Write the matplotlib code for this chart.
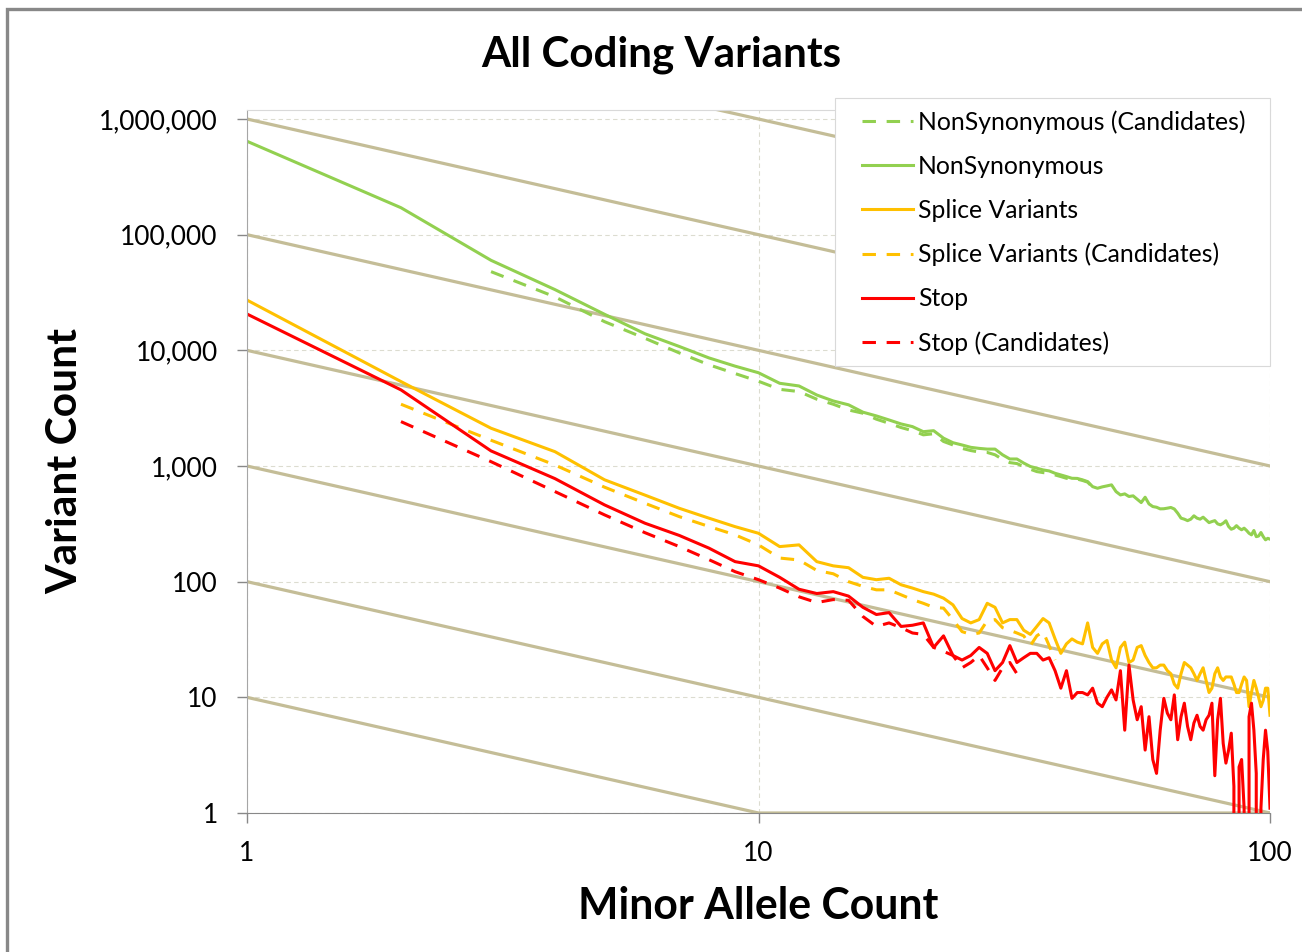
import numpy as np
import matplotlib
matplotlib.use('Agg')
import matplotlib.pyplot as plt
from matplotlib.patches import Rectangle

plt.rcParams['font.family'] = ['Lato', 'DejaVu Sans']

nan = np.nan

# minor allele count 1..100
mac = list(range(1, 101))

nonsyn = [642000, 171000, 60000, 33500, 20500, 13900, 10800, 8600, 7300, 6400,
          5190, 4920, 4110, 3650, 3380, 2920, 2710, 2500, 2310, 2190,
          1980, 2020, 1740, 1590, 1520, 1450, 1420, 1400, 1400, 1250,
          1150, 1150, 1060, 990, 957, 925, 907, 865, 837, 810,
          783, 781, 759, 733, 663, 642, 660, 673, 687, 601,
          562, 574, 545, 552, 516, 483, 537, 470, 446, 440,
          426, 427, 432, 438, 425, 391, 354, 347, 337, 347,
          371, 354, 347, 361, 342, 324, 331, 337, 316, 310,
          320, 336, 300, 284, 290, 305, 290, 281, 290, 277,
          262, 254, 277, 245, 248, 266, 245, 230, 237, 233]

nonsyn_cand = [nan, nan, 47900, 29000, 17700, 12700, 9500, 7500, 6300, 5400,
               4600, 4400, 3780, 3420, 3050, 2860, 2540, 2340, 2150, 2020,
               1860, 1900, 1630, 1520, 1420, 1360, 1320, 1310, 1250, 1140,
               1070, 1050, 988, 937, 895, 877, 865, 837, 810, 783,
               770, 770, 750, 725, 655] + [nan] * 55

splice = [27200, 5370, 2120, 1330, 760, 560, 431, 354, 299, 262,
          201, 208, 149, 137, 132, 109, 104, 107, 94, 88,
          82, 78, 72, 63, 48, 44, 47, 65, 60, 44,
          47, 47, 38, 35, 41, 48, 44, 32, 24, 29,
          32, 30, 29, 44, 27, 24, 29, 31, 21, 18,
          27, 30, 20, 21, 27, 28, 23, 20, 18, 18,
          19, 19, 17, 16, 13, 12, 16, 20, 19, 18,
          16, 14, 16, 18, 14, 11, 12, 16, 18, 15,
          14, 15, 15, 15, 13, 11, 11, 13, 15, 14,
          8.3, 11, 14, 12, 10, 8.3, 9.4, 12, 12, 7]

splice_cand = [nan, 3420, 1670, 1020, 656, 476, 365, 300, 254, 208,
               160, 154, 125, 117, 100, 91, 85, 85, 77, 70,
               65, 60, 59, 47, 37, 35, 36, 46, 47, 40,
               38, 36, 34, 28, 34, 37, 28, 21] + [nan] * 62

stop = [20600, 4550, 1350, 778, 461, 320, 251, 195, 149, 137,
        109, 86, 79, 82, 75, 60, 52, 54, 41, 42,
        44, 27, 34, 23, 21, 23, 27, 24, 17, 20,
        28, 20, 22, 24, 24, 21, 22, 17, 12, 17,
        9.8, 11, 11, 10.5, 12, 8.9, 8.3, 10, 11.6, 9.5,
        17, 5.2, 19, 9.5, 6.4, 8.3, 3.5, 6.8, 2.9, 2.2,
        5.2, 9.8, 7.3, 6.4, 10.5, 4.3, 6.8, 8.9, 5.6, 4.3,
        6, 7, 5.6, 5.2, 6.4, 7, 8.9, 2.1, 6.4, 9.8,
        4, 2.7, 3.5, 4.9, 1.7, 0, 2.5, 2.9, 1.1, 0,
        6.8, 8.9, 5.2, 2.2, 0, 1.1, 2.9, 5.2, 3.4, 1.1]

stop_cand = [nan, 2420, 1090, 601, 378, 265, 201, 155, 122, 104,
             88, 74, 66, 70, 69, 50, 41, 44, 40, 36,
             35, 27, 25, 23, 18, 20, 23, 18, 14, 18,
             20, 16] + [nan] * 68

# 1/x guide lines, value at x = 1
guide_levels = [10, 100, 1000, 10000, 100000, 1000000, 10000000]

ytick_vals = [1, 10, 100, 1000, 10000, 100000, 1000000]
ytick_labels = ['1', '10', '100', '1,000', '10,000', '100,000', '1,000,000']
xtick_vals = [1, 10, 100]
xtick_labels = ['1', '10', '100']

W, H = 1302, 952
fig = plt.figure(figsize=(W / 100, H / 100), dpi=100)

# chart border (cut on the right/bottom in the original)
fig.patches.append(Rectangle((7 / W, -0.05), 1.2, 1 - 9 / H + 0.05, transform=fig.transFigure,
                             fill=False, edgecolor='#888888', lw=2.4))

ax = fig.add_axes([247 / W, 1 - 813 / H, (1270 - 247) / W, (813 - 110) / H])
ax.set_xscale('log')
ax.set_yscale('log')
ax.set_xlim(1, 100)
ax.set_ylim(1, 10 ** (6 + 9 / 115.67))

tan = '#C4BD97'
gx = np.array([1, 10, 100])
for c in guide_levels:
    ax.plot(gx, np.maximum(c / gx, 1), color=tan, lw=2.3, zorder=1.5)

green, yellow, red = '#92D050', '#FFC000', '#FF0000'
dash = (0, (4.4, 3.5))
lw = 2.2
series = [
    (nonsyn_cand, green, dash, 'NonSynonymous (Candidates)'),
    (nonsyn, green, '-', 'NonSynonymous'),
    (splice, yellow, '-', 'Splice Variants'),
    (splice_cand, yellow, dash, 'Splice Variants (Candidates)'),
    (stop, red, '-', 'Stop'),
    (stop_cand, red, dash, 'Stop (Candidates)'),
]
handles = []
for vals, col, ls, lab in series:
    ln, = ax.plot(mac, vals, color=col, ls=ls, lw=lw, label=lab,
                  dash_capstyle='butt', solid_joinstyle='round')
    handles.append(ln)

ax.set_xticks(xtick_vals)
ax.set_xticklabels(xtick_labels)
ax.set_yticks(ytick_vals)
ax.set_yticklabels(ytick_labels)
ax.minorticks_off()
ax.tick_params(axis='both', direction='out', length=7, width=1, color='#888888',
               labelsize=19, labelcolor='black')
ax.tick_params(axis='y', pad=14)
ax.tick_params(axis='x', pad=13)
ax.grid(True, which='major', ls=(0, (4, 3)), color='#DCDCD0', lw=0.8)
ax.set_axisbelow(True)

ax.spines['left'].set_color('#A6A6A6')
ax.spines['bottom'].set_color('#888888')
ax.spines['top'].set_color('#D9D9D9')
ax.spines['right'].set_visible(False)

# legend box
ax.add_patch(Rectangle((835 / W, 1 - 366 / H), (1270 - 835) / W, (366 - 98) / H,
                       transform=fig.transFigure, facecolor='white', edgecolor='#D9D9D9',
                       lw=0.8, zorder=4, clip_on=False))
fs = 17.8
fpx = fs * 100 / 72
leg = ax.legend(handles=handles, loc='upper left', bbox_to_anchor=(862 / W, 1 - 110 / H),
                bbox_transform=fig.transFigure, frameon=False, fontsize=fs,
                handlelength=51 / fpx, handletextpad=5 / fpx, labelspacing=0.85,
                borderpad=0, borderaxespad=0)
leg.set_zorder(5)

fig.text(661 / W, 1 - 67 / H, 'All Coding Variants', ha='center', va='baseline',
         fontsize=30.3, fontweight='bold')
fig.text(758.5 / W, 1 - 919 / H, 'Minor Allele Count', ha='center', va='baseline',
         fontsize=30.8, fontweight='bold')
fig.text(77 / W, 1 - 461 / H, 'Variant Count', ha='center', va='baseline', rotation=90,
         rotation_mode='anchor', fontsize=30.6, fontweight='bold')

fig.savefig('out.png', dpi=100)
